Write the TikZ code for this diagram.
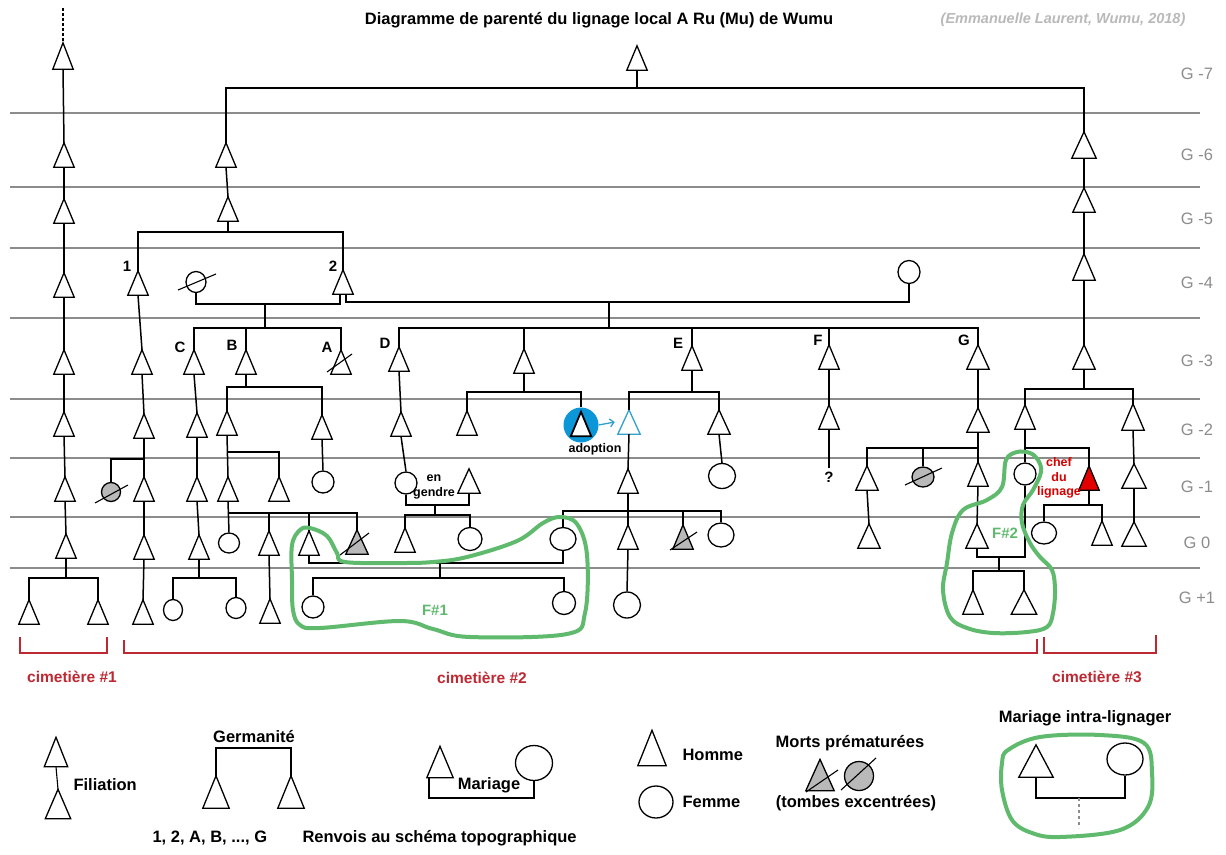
\documentclass[tikz,border=0pt]{standalone}
\usepackage{fontspec}
\setmainfont{Liberation Sans}
\usetikzlibrary{shapes.geometric,arrows.meta,calc}

\definecolor{vert}{RGB}{95,186,110}
\definecolor{rouge}{RGB}{190,40,50}
\definecolor{bleu}{RGB}{10,150,215}
\definecolor{bleuclair}{RGB}{50,160,205}
\definecolor{grille}{RGB}{140,140,140}

\tikzset{
  tri/.style={minimum width=20pt, minimum height=24pt, inner sep=0pt,
    append after command={\pgfextra{\draw[line width=1.3pt, #1] (\tikzlastnode.south west) -- (\tikzlastnode.north) -- (\tikzlastnode.south east) -- cycle;}}},
  homme/.style={tri={fill=white}},
  hommemort/.style={tri={fill=gray!55}},
  hommebleu/.style={tri={draw=bleuclair, fill=white}},
  femme/.style={ellipse, draw, fill=white, line width=1.3pt, minimum width=22pt, minimum height=22pt, inner sep=0pt},
  femmemort/.style={femme, fill=gray!55},
  lien/.style={line width=1.5pt},
  trait grille/.style={draw=grille, line width=1.1pt},
  crochet/.style={draw=rouge, line width=1.3pt},
  boucle/.style={draw=vert, line width=4pt, line join=round},
  titre/.style={font=\bfseries\fontsize{16.5}{19}\selectfont},
  source/.style={text=gray!55, font=\bfseries\itshape\fontsize{14.5}{17}\selectfont},
  lettre/.style={font=\bfseries\fontsize{15}{18}\selectfont},
  petit/.style={font=\bfseries\fontsize{12.5}{15}\selectfont},
  gen/.style={text=grille, font=\fontsize{16.5}{19}\selectfont},
  legende/.style={font=\bfseries\fontsize{16.5}{19}\selectfont},
  cimet/.style={text=rouge, font=\bfseries\fontsize{15.5}{18}\selectfont},
  famille/.style={text=vert, font=\bfseries\fontsize{15}{18}\selectfont},
}

\newcommand\fratrie[3]{\draw[lien] (#2.north) -- (#2.north |- #1) -- (#3.north |- #1) -- (#3.north);}
\newcommand\barre[3]{\draw[line width=1.1pt] ([shift={#2}]#1.center) -- ([shift={#3}]#1.center);}

\begin{document}
\begin{tikzpicture}[x=1pt, y=-1pt]
\path[use as bounding box, fill=white] (0,0) rectangle (1226,854);

\foreach \y in {113,187,248,318,399,458,517,568}
  \draw[trait grille] (10,\y) -- (1200,\y);

\node[titre] (titre) at (599,20) {Diagramme de parenté du lignage local A Ru (Mu) de Wumu};
\node[source] (source) at (1063,20) {(Emmanuelle Laurent, Wumu, 2018)};
\foreach \g/\y [count=\i] in {-7/74,-6/155,-5/219,-4/283,-3/361,-2/430,-1/487,0/543,+1/598}
  \node[gen] (g\i) at (1197,\y) {G \g};

\node[homme, minimum height=26pt] (L1) at (63,56) {};
\node[homme] (L2) at (64,155) {};
\node[homme] (L3) at (64,211) {};
\node[homme] (L4) at (64,285) {};
\node[homme] (L5) at (64,362) {};
\node[homme] (L6) at (64,424) {};
\node[homme] (L7) at (65,489) {};
\node[homme] (L8) at (66,546) {};
\node[homme] (L9) at (29,612) {};
\node[homme] (L10) at (98,612) {};
\coordinate (L0) at (63,8);
\coordinate (fL) at (66,578);

\node[homme] (T0) at (637,58) {};
\coordinate (fT) at (637,88);
\node[homme] (T1) at (226,155) {};
\node[homme] (T2) at (228,209) {};
\coordinate (fT2) at (228,232);
\node[homme] (N1) at (138,283) {};
\node[homme] (N2) at (343,282) {};
\node[lettre] (l1) at (127,266) {1};
\node[lettre] (l2) at (333,266) {2};
\node[femme, minimum width=20pt, minimum height=21pt] (W1) at (196,282) {};
\node[femme, minimum height=23pt] (W2) at (909,272) {};
\coordinate (m1) at (265,304);
\coordinate (m2) at (609,302);
\coordinate (fCBA) at (265,328);
\coordinate (fDG) at (609,328);

\node[homme] (C) at (194,362) {};
\node[homme] (B) at (246,362) {};
\node[homme] (A) at (341,362) {};
\node[lettre] (lC) at (180,347) {C};
\node[lettre] (lB) at (232,345) {B};
\node[lettre] (lA) at (327,347) {A};
\node[homme] (D) at (399,359) {};
\node[homme] (M3) at (524,361) {};
\node[homme] (E) at (692,358) {};
\node[homme] (F) at (829,357) {};
\node[homme, minimum width=22pt] (G) at (978,357) {};
\node[lettre] (lD) at (385,343) {D};
\node[lettre] (lE) at (678,343) {E};
\node[lettre] (lF) at (818,340) {F};
\node[lettre] (lG) at (964,340) {G};

\node[homme] (N1a) at (142,362) {};
\node[homme] (N1b) at (144,426) {};
\coordinate (fN1) at (144,459);
\node[femmemort, minimum width=19pt, minimum height=19pt] (N1c) at (111,492) {};
\node[homme] (N1d) at (144,489) {};
\node[homme] (N1e) at (144,547) {};
\node[homme] (N1f) at (143,612) {};

\node[homme] (C2) at (197,425) {};
\node[homme] (C3) at (197,489) {};
\node[homme] (C4) at (199,547) {};
\coordinate (fC4) at (199,578);
\node[femme, minimum width=19pt, minimum height=21pt] (C5) at (173,610) {};
\node[femme, minimum width=20pt, minimum height=21pt] (C6) at (236,608) {};

\coordinate (fB) at (246,387);
\node[homme] (B1) at (227,423) {};
\node[homme] (B2) at (322,427) {};
\node[femme] (B3) at (323,482) {};
\coordinate (fB1) at (227,452);
\node[homme] (B4) at (228,489) {};
\node[homme] (B5) at (279,489) {};
\coordinate (fB4) at (228,513);
\node[femme, minimum width=21pt, minimum height=20pt] (B6) at (229,543) {};
\node[homme] (B7) at (269,543) {};
\node[homme] (B8) at (309,543) {};
\node[hommemort, minimum width=22pt] (B9) at (357,542) {};
\node[homme] (B10) at (270,611) {};
\coordinate (m3) at (440,563);
\coordinate (fF1) at (440,578);
\node[femme] (F1a) at (313,607) {};
\node[femme, minimum width=23pt, minimum height=23pt] (F1b) at (564,603) {};

\node[homme] (D2) at (401,424) {};
\node[femme] (D3) at (406,483) {};
\node[homme, minimum width=22pt] (DG) at (469,481) {};
\node[petit, align=center] (engendre) at (434,487) {en\\gendre};
\coordinate (m4) at (435,505);
\coordinate (fD) at (435,515);
\node[homme] (D4) at (405,540) {};
\node[femme, minimum width=24pt, minimum height=23pt] (D5) at (470,539) {};

\coordinate (fM) at (524,392);
\node[homme] (M4) at (467,423) {};
\node[circle, fill=bleu, minimum size=35pt, inner sep=0pt] (adc) at (581,425) {};
\node[tri={fill=white, line width=1.8pt}] (AD1) at (581,424) {};
\node[hommebleu, minimum width=22pt] (AD2) at (629,422) {};
\node[petit] (adoption) at (595,449) {adoption};

\coordinate (fE) at (692,392);
\node[homme, minimum width=22pt] (E2) at (719,422) {};
\node[femme, minimum width=27pt, minimum height=25pt] (E3) at (722,476) {};
\node[homme] (E4) at (628,481) {};
\coordinate (fE4) at (628,511);
\node[femme, minimum width=26pt, minimum height=23pt] (E5) at (563,539) {};
\node[homme] (E6) at (628,537) {};
\node[hommemort] (E7) at (683,537) {};
\node[femme, minimum width=26pt, minimum height=24pt] (E8) at (721,535) {};
\node[femme, minimum width=27pt, minimum height=26pt] (E9) at (627,605) {};

\node[homme] (F2) at (829,417) {};
\node[lettre] (Q) at (829,477) {?};

\node[homme, minimum width=22pt] (G2) at (978,420) {};
\coordinate (fG2) at (978,448);
\node[homme, minimum width=22pt] (GA) at (867,478) {};
\node[femmemort, minimum width=22pt, minimum height=20pt] (GB) at (923,477) {};
\node[homme] (GC) at (978,474) {};
\node[homme, minimum width=22pt] (GA2) at (869,536) {};
\node[homme, minimum width=22pt] (GD) at (977,536) {};
\coordinate (m5) at (999,557);
\coordinate (fF2) at (999,571);
\node[homme] (GE) at (973,602) {};
\node[homme, minimum width=25pt] (GF) at (1024,602) {};

\node[homme, minimum width=24pt, minimum height=26pt] (R1) at (1084,145) {};
\node[homme, minimum width=22pt] (R2) at (1084,200) {};
\node[homme, minimum width=22pt, minimum height=26pt] (R3) at (1084,267) {};
\node[homme, minimum width=22pt] (R4) at (1084,357) {};
\coordinate (fR4) at (1084,389);
\node[homme] (R5) at (1025,417) {};
\node[homme, minimum width=22pt, minimum height=26pt] (R6) at (1133,417) {};
\node[femme] (RW) at (1025,474) {};
\coordinate (fR5) at (1025,448);
\node[tri={fill=red!90!black}] (RC) at (1089,478) {};
\node[petit, text=red!85!black, align=center, font=\bfseries\fontsize{12.5}{14.5}\selectfont] (chef) at (1059,478) {chef\\du\\lignage};
\coordinate (fRC) at (1089,505);
\node[femme, minimum width=25pt] (RW2) at (1044,533) {};
\node[homme] (R7) at (1102,533) {};
\node[homme, minimum width=24pt] (R8) at (1134,476) {};
\node[homme, minimum width=24pt] (R9) at (1134,534) {};

\foreach \a/\b in {L1/L2,L2/L3,L3/L4,L4/L5,L5/L6,L6/L7,L7/L8,T1/T2,N1/N1a,N1a/N1b,N1b/N1d,N1d/N1e,N1e/N1f,
  C/C2,C2/C3,C3/C4,B1/B4,B4/B6,B2/B3,B7/B10,D/D2,D2/D3,E2/E3,AD2/E4,E4/E6,E6/E9,F/F2,F2/Q,
  G/G2,G2/GC,GA/GA2,GC/GD,R1/R2,R2/R3,R3/R4,R5/RW,R6/R8,R8/R9}
  \draw[lien] (\a.south) -- (\b.north);
\draw[line width=1.2pt, dash pattern=on 3pt off 2pt] (L0) -- (L1.north);

\draw[lien] (L8.south) -- (fL);
\fratrie{fL}{L9}{L10}
\draw[lien] (T0.south) -- (fT);
\fratrie{fT}{T1}{R1}
\draw[lien] (T2.south) -- (fT2);
\fratrie{fT2}{N1}{N2}
\draw[lien] (W1.south) |- (m1) -| ([xshift=-3pt]N2.south);
\draw[lien] ([xshift=3pt]N2.south) |- (m2) -| (W2.south);
\draw[lien] (m1) -- (fCBA);
\draw[lien] (m2) -- (fDG);
\fratrie{fCBA}{C}{A}
\draw[lien] (B.north) -- (B.north |- fCBA);
\fratrie{fDG}{D}{G}
\foreach \n in {M3,E,F}
  \draw[lien] (\n.north) -- (\n.north |- fDG);

\draw[lien] (fN1) -| (N1c.north);
\draw[lien] (C4.south) -- (fC4);
\fratrie{fC4}{C5}{C6}
\draw[lien] (B.south) -- (fB);
\fratrie{fB}{B1}{B2}
\draw[lien] (fB1) -| (B5.north);
\draw[lien] (fB4) -| (B9.north);
\foreach \n in {B7,B8}
  \draw[lien] (\n.north) -- (\n.north |- fB4);
\draw[lien] (B8.south) |- (m3) -| (E5.south);
\draw[lien] (m3) -- (fF1);
\fratrie{fF1}{F1a}{F1b}

\draw[lien] (D3.south) |- (m4) -| (DG.south);
\draw[lien] (m4) -- (fD);
\fratrie{fD}{D4}{D5}
\draw[lien] (M3.south) -- (fM);
\fratrie{fM}{M4}{adc}
\draw[bleuclair, line width=1.3pt, -{Straight Barb[length=4pt]}] (adc.east) -- ([xshift=-3pt]AD2.west);
\draw[lien] (E.south) -- (fE);
\fratrie{fE}{AD2}{E2}
\fratrie{fE4}{E5}{E8}
\draw[lien] (E7.north) -- (E7.north |- fE4);

\draw[lien] (fG2) -| (GA.north);
\draw[lien] (GB.north) -- (GB.north |- fG2);
\draw[lien] (GD.south) |- (m5) -| (RW.south);
\draw[lien] (m5) -- (fF2);
\fratrie{fF2}{GE}{GF}
\draw[lien] (R4.south) -- (fR4);
\fratrie{fR4}{R5}{R6}
\draw[lien] (fR5) -| (RC.north);
\draw[lien] (RC.south) -- (fRC);
\fratrie{fRC}{RW2}{R7}

\barre{A}{(-14,10)}{(11,-8)}
\barre{W1}{(-18,8)}{(20,-8)}
\barre{N1c}{(-16,11)}{(17,-7)}
\barre{B9}{(-17,13)}{(12,-9)}
\barre{E7}{(-13,13)}{(14,-5)}
\barre{GB}{(-18,8)}{(19,-9)}

\draw[boucle] plot[smooth cycle, tension=0.6] coordinates {(320,628) (300,625) (293,610) (292,580) (292,545) (300,530) (310,528) (327,536) (337,553) (345,562) (400,563) (433,562) (467,557) (517,541) (543,523) (560,517) (577,524) (587,555) (585,613) (567,634) (470,637) (433,629) (400,621)};
\node[famille] (F1) at (435,610) {F\#1};
\draw[boucle] plot[smooth cycle, tension=0.6] coordinates {(1002,487) (987,500) (963,510) (952,533) (947,563) (943,590) (950,617) (967,628) (993,633) (1027,632) (1047,627) (1053,613) (1055,590) (1052,570) (1040,557) (1030,543) (1022,523) (1023,505) (1033,490) (1041,472) (1038,460) (1030,453) (1017,452) (1006,460)};
\node[famille] (F2l) at (1005,533) {F\#2};

\draw[crochet] (20,637) -- (20,653) -- (107,653) -- (107,637);
\draw[crochet] (124,640) -- (124,653) -- (1037,653) -- (1037,639);
\draw[crochet] (1044,637) -- (1044,653) -- (1156,653) -- (1156,635);
\node[cimet] (cim1) at (72,677) {cimetière \#1};
\node[cimet] (cim2) at (482,678) {cimetière \#2};
\node[cimet] (cim3) at (1097,677) {cimetière \#3};

\node[homme, minimum width=23pt, minimum height=29pt] (lf1) at (56,752) {};
\node[homme, minimum width=25pt, minimum height=29pt] (lf2) at (58,804) {};
\draw[lien, line width=1.1pt] (lf1.south) -- (lf2.north);
\node[legende, anchor=west] (tfil) at (70,785) {Filiation};
\node[legende] (tger) at (254,737) {Germanité};
\coordinate (fger) at (252,748);
\node[homme, minimum width=26pt, minimum height=32pt] (lg1) at (216,792) {};
\node[homme, minimum width=26pt, minimum height=32pt] (lg2) at (291,792) {};
\fratrie{fger}{lg1}{lg2}
\node[homme, minimum width=26pt, minimum height=31pt] (lm1) at (440,762) {};
\node[femme, minimum width=37pt, minimum height=35pt] (lm2) at (534,763) {};
\coordinate (mleg) at (482,798);
\draw[lien] ([xshift=-11pt]lm1.south) |- (mleg) -| (lm2.south);
\node[legende] (tmar) at (489,785) {Mariage};
\node[homme, minimum width=28pt, minimum height=35pt] (lh) at (652,748) {};
\node[legende, anchor=west] (thom) at (679,755) {Homme};
\node[femme, minimum width=34pt, minimum height=32pt] (lfe) at (656,802) {};
\node[legende, anchor=west] (tfem) at (679,802) {Femme};
\node[legende] (tmort) at (850,743) {Morts prématurées};
\node[hommemort, minimum width=28pt, minimum height=31pt] (ld1) at (820,775) {};
\node[femmemort, minimum width=29pt, minimum height=29pt] (ld2) at (859,776) {};
\barre{ld1}{(-14,17)}{(18,-5)}
\barre{ld2}{(-18,14)}{(17,-18)}
\node[legende] (ttomb) at (856,803) {(tombes excentrées)};
\node[legende] (tintra) at (1085,718) {Mariage intra-lignager};
\node[homme, minimum width=34pt, minimum height=32pt] (li1) at (1036,761) {};
\node[femme, minimum width=36pt, minimum height=32pt] (li2) at (1125,759) {};
\coordinate (mintra) at (1079,798);
\coordinate (fintra) at (1079,828);
\draw[lien] (li1.south) |- (mintra) -| (li2.south);
\draw[trait grille, dashed] (mintra) -- (fintra);
\draw[boucle] plot[smooth cycle, tension=0.6] coordinates {(1008,750) (1040,737) (1100,735) (1144,743) (1152,773) (1148,807) (1120,830) (1060,837) (1032,833) (1012,820) (1002,790) (1002,763)};
\node[legende, anchor=west] (trenv1) at (149,838) {1, 2, A, B, ..., G};
\node[legende, anchor=west] (trenv2) at (299,838) {Renvois au schéma topographique};
\end{tikzpicture}
\end{document}
